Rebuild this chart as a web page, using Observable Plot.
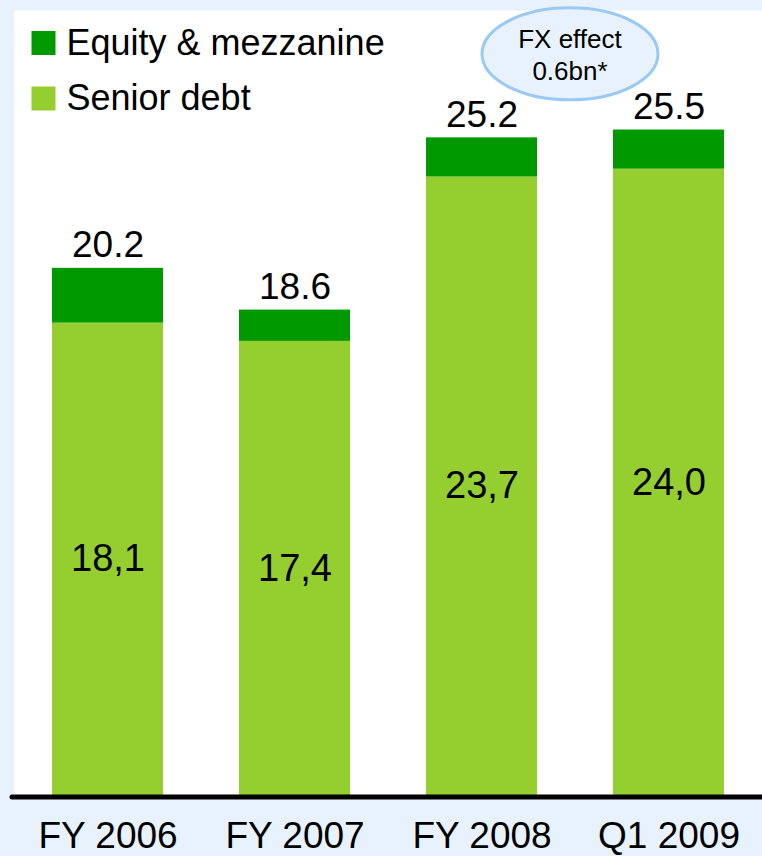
<!DOCTYPE html>
<html><head><meta charset="utf-8">
<script src="https://cdn.jsdelivr.net/npm/d3@7"></script>
<script src="https://cdn.jsdelivr.net/npm/@observablehq/plot@0.6"></script>
<style>html,body{margin:0;padding:0;background:#e8f2fc;} svg{display:block;}</style>
</head><body><div id="chart"></div>
<script>
const periods = ["FY 2006", "FY 2007", "FY 2008", "Q1 2009"];
const seniorDebt = [18.1, 17.4, 23.7, 24.0];
const equityMezz = [2.1, 1.2, 1.5, 1.5];
const totals = [20.2, 18.6, 25.2, 25.5];
const totalLabels = ["20.2", "18.6", "25.2", "25.5"];
const seniorLabels = ["18,1", "17,4", "23,7", "24,0"];
const seriesNames = ["Equity & mezzanine", "Senior debt"];
const seriesColors = ["#009a00", "#95ce2f"];
const fxNoteLines = ["FX effect", "0.6bn*"];
const fxNoteBetween = ["FY 2008", "Q1 2009"];
const fxNoteValue = 28.4;

const rows = periods.flatMap((p, i) => [
  {period: p, series: "Senior debt", value: seniorDebt[i]},
  {period: p, series: "Equity & mezzanine", value: equityMezz[i]}
]);
const labelRows = periods.map((p, i) => ({
  period: p, total: totals[i], totalLabel: totalLabels[i],
  seniorMid: seniorDebt[i] / 2, seniorLabel: seniorLabels[i]
}));

const legendOffsets = [32.5, 88];

const chart = Plot.plot({
  width: 762, height: 856,
  marginTop: 10, marginLeft: 14, marginRight: 0, marginBottom: 61,
  style: {background: "#e8f2fc", fontFamily: "'Liberation Sans', Arial, sans-serif", color: "black"},
  x: {domain: periods, paddingInner: 0.404, paddingOuter: 0.2},
  y: {domain: [0, 30.08], axis: null},
  color: {domain: seriesNames, range: seriesColors},
  marks: [
    Plot.frame({fill: "white", stroke: "none"}),
    Plot.barY(rows, {x: "period", y: "value", fill: "series"}),
    Plot.text(labelRows, {x: "period", y: "total", text: "totalLabel", dy: -11, lineAnchor: "bottom", fontSize: 37, fill: "black"}),
    Plot.text(labelRows, {x: "period", y: "seniorMid", text: "seniorLabel", lineAnchor: "middle", fontSize: 38, fill: "black"}),
    Plot.ruleY([0], {stroke: "black", strokeWidth: 5, strokeLinecap: "round", insetLeft: -2, dy: 1.5}),
    Plot.axisX({tickSize: 0, tickPadding: 26, fontSize: 37, label: null}),
    ...seriesNames.map((name, i) => Plot.dot([name], {
      frameAnchor: "top-left", dx: 29, dy: legendOffsets[i], symbol: "square", r: 13.54,
      fill: d => d, stroke: null
    })),
    ...seriesNames.map((name, i) => Plot.text([name], {
      frameAnchor: "top-left", dx: 52, dy: legendOffsets[i], text: d => d,
      textAnchor: "start", lineAnchor: "middle", fontSize: 36, fill: "black"
    }))
  ]
});

// FX effect annotation bubble
const xs = chart.scale("x"), ys = chart.scale("y");
const cx = (xs.apply(fxNoteBetween[0]) + xs.apply(fxNoteBetween[1])) / 2 + xs.bandwidth / 2 - 5;
const cy = ys.apply(fxNoteValue);
const g = d3.select(chart).append("g");
g.append("ellipse").attr("cx", cx).attr("cy", cy).attr("rx", 88).attr("ry", 46)
  .attr("fill", "#e8f2fc").attr("stroke", "#99c9f5").attr("stroke-width", 3);
g.selectAll("text.fx").data(fxNoteLines).join("text")
  .attr("x", cx).attr("y", (d, i) => cy - 6 + i * 32)
  .attr("text-anchor", "middle").attr("font-size", 26).attr("fill", "black")
  .text(d => d);

document.getElementById("chart").appendChild(chart);
</script>
</body></html>
